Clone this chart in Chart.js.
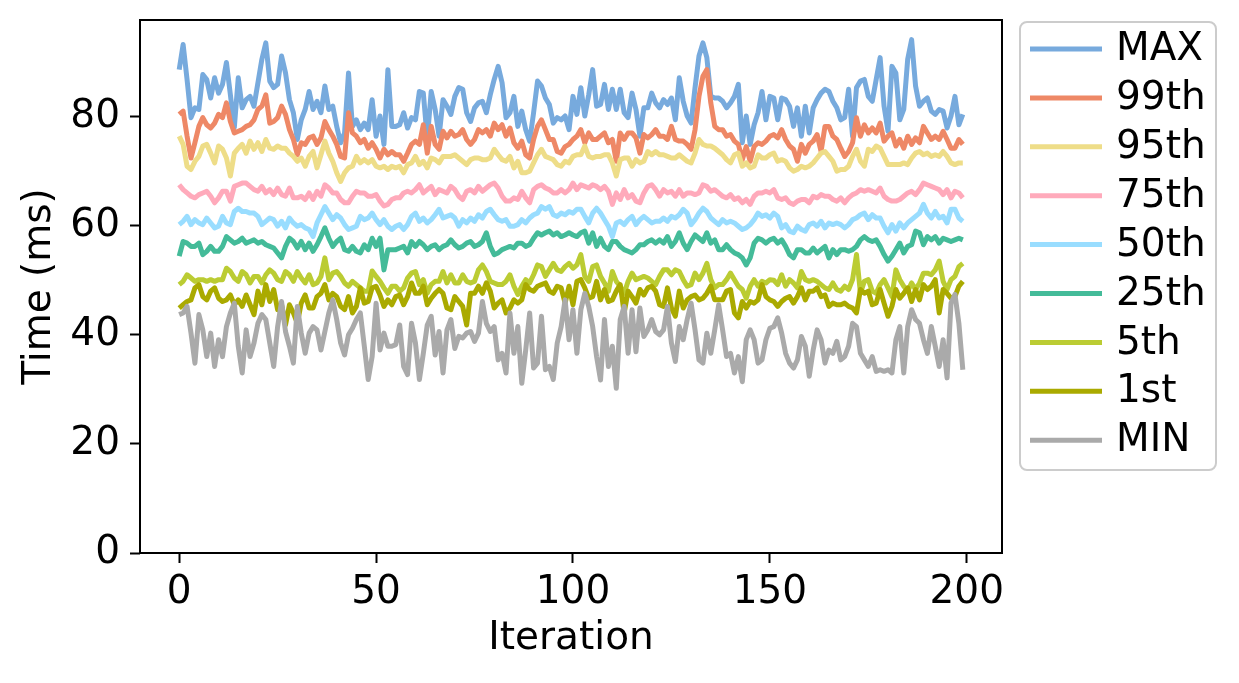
<!DOCTYPE html>
<html>
<head>
<meta charset="utf-8">
<script src="https://cdn.jsdelivr.net/npm/chart.js@4.4.1/dist/chart.umd.min.js"></script>
<style>
  html, body { margin: 0; padding: 0; background: #fff; }
  #wrap { width: 1239px; height: 683px; }
</style>
</head>
<body>
<div id="wrap"><canvas id="canvas" width="1239" height="683"></canvas></div>
<script>
// valores (ms por iteracao)
var seriesNames = ['MAX', '99th', '95th', '75th', '50th', '25th', '5th', '1st', 'MIN'];
var seriesColors = ['#77AADD', '#EE8866', '#EEDD88', '#FFAABB', '#99DDFF', '#44BB99', '#BBCC33', '#AAAA00', '#AAAAAA'];
var xTicks = [0, 50, 100, 150, 200];
var yTicks = [0, 20, 40, 60, 80];

var maxV = [88.6,93.2,86.8,79.8,81.6,81.3,87.7,86.8,83.4,87.1, 84.3,85.9,89.9,84.0,78.0,87.1,81.6,83.1,83.7,81.9,
  86.2,90.5,93.5,86.5,85.3,85.9,91.1,88.0,83.1,80.7, 75.8,79.4,81.3,84.6,81.3,82.8,80.7,85.6,81.3,81.9,
  78.2,75.2,77.0,88.0,78.2,79.4,77.6,78.8,77.6,83.1, 76.4,80.1,74.9,88.6,78.2,78.2,78.5,80.7,77.9,79.8,
  79.4,84.6,84.3,75.8,84.6,81.3,76.4,83.1,81.9,80.4, 83.7,85.3,85.0,80.7,79.1,81.6,82.5,82.8,80.7,84.0,
  86.8,89.2,86.2,79.8,80.7,83.7,78.2,81.0,77.6,75.5, 80.7,86.5,85.6,83.4,82.2,78.8,79.8,79.4,80.1,77.6,
  83.7,80.4,85.3,80.1,84.0,88.6,81.9,82.2,85.9,81.3, 85.0,81.3,85.0,80.7,79.8,84.3,81.3,76.4,81.6,81.6,
  84.3,82.5,81.6,83.1,82.2,83.4,79.4,87.1,82.8,80.1, 78.8,85.3,91.1,93.5,90.8,83.7,83.4,83.4,82.8,81.6,
  82.5,83.7,85.9,75.2,80.1,74.9,78.5,80.7,84.6,79.4, 83.7,83.4,79.4,83.4,83.1,81.9,78.2,81.6,76.4,81.9,
  77.0,81.6,83.1,84.3,85.0,84.6,82.8,81.6,79.4,79.8, 85.0,76.4,85.3,86.5,86.8,83.7,82.8,86.8,90.8,81.9,
  77.3,89.2,88.0,79.4,81.3,90.5,94.1,85.6,81.9,82.8, 83.4,81.0,80.4,81.3,81.0,77.9,80.1,83.7,78.5,80.4];

var p99 = [80.4,81.0,76.4,72.4,75.2,78.2,79.8,78.5,77.9,78.8, 80.4,79.8,82.5,79.1,77.0,77.3,77.6,78.2,78.5,79.4,
  81.3,81.9,84.0,78.8,79.1,79.8,81.9,80.4,77.6,75.8, 73.0,75.2,74.9,76.1,76.4,74.9,76.1,79.1,77.6,76.4,
  74.9,72.7,72.4,80.7,77.0,76.4,75.2,75.8,74.2,75.2, 74.0,72.4,74.0,73.0,73.6,73.0,73.0,71.8,73.3,74.9,
  75.5,74.9,78.5,73.3,78.2,74.9,74.0,77.3,76.1,77.3, 76.4,76.7,77.6,75.8,74.9,75.8,77.6,77.0,77.6,76.4,
  78.8,77.6,78.5,76.4,77.9,75.2,74.2,75.5,73.0,72.4, 75.8,78.2,79.4,77.6,75.8,75.8,73.6,73.3,74.5,74.9,
  75.8,76.4,77.6,75.2,77.0,75.8,75.8,76.4,77.0,75.2, 75.8,71.8,77.0,75.8,77.0,77.0,76.1,73.3,76.7,76.1,
  76.7,77.6,76.4,76.4,75.8,78.2,75.8,75.5,75.5,74.9, 74.0,77.6,83.7,87.4,88.6,82.5,78.2,77.6,77.6,76.4,
  76.7,75.5,74.9,72.1,74.5,71.8,74.5,75.2,74.9,75.5, 76.4,76.7,76.1,77.6,75.8,74.6,74.0,71.8,74.9,73.3,
  74.9,75.5,76.7,73.6,78.2,78.2,76.4,75.8,74.2,72.7, 73.6,75.2,79.8,76.4,78.5,77.0,77.9,77.0,78.8,75.5,
  76.4,77.0,74.6,75.8,74.2,76.4,74.9,76.1,75.2,78.2, 77.0,75.8,76.4,75.8,77.3,75.8,74.2,74.2,75.8,74.9];

var p95 = [76.4,74.9,70.9,70.3,71.8,72.7,74.6,74.9,73.3,71.5, 74.6,74.0,72.4,69.1,73.3,74.2,74.9,73.3,75.5,74.0,
  75.2,73.6,75.8,74.2,74.0,74.6,74.2,74.2,73.3,72.7, 71.8,72.4,70.9,72.7,73.6,70.6,73.0,75.5,73.3,71.8,
  69.7,68.1,69.7,70.6,70.9,72.7,71.5,72.1,71.5,72.1, 70.9,70.6,70.9,70.3,70.9,70.6,70.9,69.7,71.2,71.5,
  72.7,71.2,71.8,70.6,72.4,72.1,71.5,72.7,72.7,72.7, 73.0,72.4,71.8,71.2,72.1,72.4,72.4,72.1,72.1,72.4,
  74.0,73.0,72.1,71.8,72.7,70.6,71.8,69.7,69.7,70.0, 71.5,73.0,74.0,72.7,72.4,72.1,71.2,70.9,71.8,71.5,
  72.7,73.0,73.0,74.6,72.7,72.4,72.7,72.7,73.0,73.0, 71.5,69.1,72.1,72.4,72.4,70.9,72.1,71.5,71.8,73.6,
  73.0,73.6,73.0,73.0,72.7,72.4,72.4,73.0,72.4,71.8, 71.5,73.3,75.8,74.9,74.6,74.6,74.2,73.6,73.0,72.1,
  71.5,73.0,73.3,70.9,71.5,70.6,70.9,73.0,72.4,72.4, 73.0,73.3,71.8,72.1,71.8,70.6,70.0,70.3,70.9,70.6,
  70.9,71.5,72.4,73.3,73.6,72.7,71.8,70.0,70.3,70.3, 70.9,72.7,74.0,71.8,70.9,74.0,73.6,74.6,74.2,72.7,
  71.2,71.2,71.2,71.2,71.5,71.2,72.4,73.3,73.6,73.0, 73.3,72.7,73.0,72.7,73.6,72.7,71.5,71.2,71.5,71.5];

var p75 = [67.5,66.6,66.0,65.4,65.1,65.7,66.0,66.3,65.4,64.2, 65.1,66.3,66.3,64.5,67.2,67.5,67.8,67.8,67.2,66.6,
  66.3,67.2,66.0,66.6,65.7,66.9,65.7,65.4,66.9,65.1, 65.1,65.4,64.8,66.0,64.8,66.3,65.4,67.5,66.9,66.0,
  66.0,64.8,64.2,64.2,65.4,66.3,66.0,66.0,65.4,65.4, 65.7,64.5,63.6,63.9,64.8,65.1,65.1,66.0,66.3,66.0,
  66.6,67.5,66.0,66.6,67.2,65.7,66.6,66.3,66.0,67.2, 66.6,65.4,64.8,66.3,66.6,66.0,67.2,66.3,66.9,67.5,
  67.8,66.9,65.4,64.5,64.5,65.1,64.8,66.3,65.1,64.2, 66.6,67.2,67.5,66.9,66.6,66.0,66.0,66.6,66.0,66.6,
  67.8,66.6,67.5,67.2,66.9,67.5,67.2,66.6,67.2,66.3, 63.9,66.0,64.8,66.6,65.1,65.7,64.5,64.2,66.0,67.2,
  67.5,66.6,65.4,66.6,66.0,66.3,65.4,66.6,65.4,66.0, 66.0,65.7,66.0,67.5,67.2,66.3,66.6,66.0,65.4,65.1,
  65.7,64.8,65.1,64.2,64.8,63.9,65.4,66.0,66.0,66.3, 66.0,66.6,65.1,64.8,65.1,64.2,63.9,64.5,64.8,64.8,
  64.2,65.4,65.1,65.7,65.4,65.4,64.8,64.5,65.1,64.2, 65.1,65.7,66.0,66.6,66.3,66.6,66.3,66.0,66.9,65.4,
  64.8,64.5,64.5,64.8,65.4,66.0,66.3,65.7,66.6,67.8, 67.5,67.2,66.9,66.6,65.7,66.6,65.1,66.3,66.0,65.1];

var p50 = [60.2,60.8,61.7,60.2,61.1,60.5,60.2,61.4,60.5,59.6, 59.9,61.7,60.5,60.2,62.6,63.2,62.6,62.6,62.3,62.3,
  61.7,60.2,60.8,61.4,61.1,59.9,60.8,59.6,61.4,60.5, 59.9,60.2,59.6,59.3,58.0,60.5,62.0,63.5,62.3,61.1,
  62.0,61.4,60.2,59.3,59.6,59.9,61.7,61.1,61.4,62.3, 61.1,60.2,61.1,59.9,59.3,59.9,60.2,59.3,60.2,61.7,
  62.3,60.8,61.4,60.5,61.1,62.0,63.0,61.4,61.7,62.0, 61.4,59.9,61.1,60.5,61.4,60.8,62.0,61.4,62.6,63.0,
  62.0,61.1,60.8,61.1,59.9,59.9,60.2,61.1,60.5,61.4, 62.0,62.3,63.5,63.0,63.5,62.0,61.7,62.3,62.0,62.6,
  62.3,63.0,63.0,61.7,60.5,62.3,63.2,62.3,61.1,59.9, 58.0,60.5,60.8,60.2,61.1,61.7,60.2,61.1,61.7,61.1,
  60.5,60.8,60.8,61.4,60.8,61.7,61.4,62.0,63.0,62.3, 60.2,61.1,62.3,63.2,62.6,61.4,60.8,60.2,61.1,60.5,
  60.8,60.5,59.9,59.3,59.6,60.2,61.1,62.3,61.7,62.0, 61.4,62.3,61.7,59.6,60.2,59.0,58.7,59.9,59.3,59.0,
  60.2,60.5,59.9,60.8,59.6,60.5,60.2,60.5,60.2,59.6, 60.2,61.1,61.4,62.0,62.3,61.1,62.0,61.4,61.4,59.9,
  58.7,60.2,59.0,60.5,59.6,60.5,61.1,61.7,62.3,63.9, 62.3,61.4,62.6,61.4,61.7,60.5,63.0,63.0,61.4,60.8];

var p25 = [54.4,57.1,56.8,56.2,56.2,56.8,54.7,55.3,56.2,55.3, 55.3,56.2,58.0,57.4,56.8,57.1,57.7,56.8,57.1,57.4,
  56.8,57.1,56.5,56.2,55.9,55.0,54.1,56.2,57.7,57.1, 55.9,57.1,55.6,56.8,55.3,56.5,58.0,59.6,57.7,56.2,
  57.1,57.7,55.6,55.3,56.2,55.3,55.0,56.5,55.6,57.7, 56.2,57.7,51.9,55.6,55.6,55.6,55.9,56.2,55.0,57.1,
  56.2,57.1,56.5,55.6,56.2,56.5,55.6,56.2,56.5,57.4, 56.5,55.9,56.2,56.8,57.1,56.2,56.5,57.1,58.7,56.2,
  54.7,55.0,55.6,55.9,56.2,55.9,56.8,56.8,56.2,56.5, 57.7,58.7,58.3,58.7,59.0,58.3,58.7,58.0,58.3,58.7,
  58.3,58.0,58.7,59.0,56.8,58.7,56.2,57.7,56.2,55.6, 57.1,57.1,56.2,55.6,55.3,55.0,55.6,56.5,56.5,57.1,
  57.4,56.8,57.4,56.8,58.0,56.2,57.1,58.7,56.8,55.6, 57.1,58.3,57.7,57.1,58.7,56.8,57.4,55.6,55.6,56.5,
  55.6,55.0,54.7,54.1,52.8,54.1,56.8,57.7,57.4,56.8, 57.4,57.7,56.8,57.4,56.2,54.7,54.1,55.6,55.6,55.0,
  55.0,55.9,55.0,55.6,56.2,54.1,55.6,54.7,55.6,55.6, 55.3,55.6,56.2,57.4,58.0,57.4,57.1,57.4,56.2,54.7,
  53.5,54.4,55.6,56.8,55.0,56.2,56.5,59.0,58.7,56.5, 58.0,57.4,58.0,56.8,57.7,57.4,57.1,57.4,57.7,57.4];

var p5 = [49.2,49.8,51.0,50.4,49.8,50.1,50.1,49.8,50.1,49.8, 50.1,50.1,52.2,51.6,50.4,49.8,51.6,51.0,49.5,50.7,
  50.7,49.5,51.0,51.9,51.3,50.1,49.8,51.6,51.0,49.8, 51.6,50.4,49.5,51.0,49.2,49.5,50.7,54.1,50.1,51.3,
  51.6,50.7,49.5,48.9,49.8,49.2,48.6,48.0,48.0,51.7, 50.7,49.8,48.6,47.6,48.9,48.9,48.0,48.6,50.4,51.3,
  51.6,49.2,50.1,47.6,49.2,49.8,49.8,51.6,49.5,51.0, 49.5,49.5,51.0,49.8,49.5,49.8,51.9,52.8,51.6,49.8,
  49.5,49.2,49.2,49.8,51.0,48.9,47.4,48.9,50.1,49.5, 51.0,52.8,52.5,50.7,51.9,53.1,51.9,51.6,52.5,53.1,
  52.2,52.8,54.7,50.7,49.8,52.5,52.8,50.7,49.5,48.0, 51.6,49.8,48.9,47.6,49.8,51.3,50.1,50.4,50.7,50.4,
  49.8,49.2,50.7,51.9,51.9,51.0,51.9,51.6,50.1,48.9, 49.2,51.3,50.1,51.3,53.1,50.1,48.6,49.2,49.2,50.1,
  51.3,50.1,48.9,48.3,46.7,48.9,50.1,48.9,49.8,49.5, 50.1,50.0,49.2,51.0,48.9,50.1,49.5,48.6,51.6,50.1,
  49.8,50.1,49.8,49.2,48.6,48.3,49.5,48.3,48.0,48.9, 48.3,50.1,54.7,47.6,49.8,50.1,48.0,47.6,49.2,50.1,
  48.6,47.0,51.9,50.1,48.9,48.0,49.5,48.3,49.5,51.3, 51.3,51.0,51.9,53.5,49.8,48.3,50.1,50.7,52.5,53.1];

var p1 = [44.9,45.5,46.1,46.4,48.6,49.2,47.0,46.4,48.0,48.6, 46.7,46.1,46.4,47.3,45.5,46.4,45.2,47.3,45.5,43.7,
  48.0,45.5,49.2,46.1,48.3,44.6,45.5,41.8,45.5,44.0, 42.1,45.8,47.3,44.9,44.9,47.0,47.6,49.2,46.4,47.6,
  47.0,45.2,44.6,47.0,44.0,45.2,48.6,45.8,46.1,48.6, 48.9,47.3,45.2,46.4,45.5,47.0,47.3,45.5,47.0,49.5,
  47.6,47.6,48.9,45.5,46.7,47.6,48.3,47.6,44.9,44.6, 47.0,46.1,45.2,41.8,47.6,47.6,48.9,47.6,49.5,48.0,
  44.9,45.8,46.4,44.0,44.9,46.4,45.8,46.4,49.2,48.3, 48.0,48.9,49.2,49.5,48.0,47.6,48.9,48.6,45.8,48.9,
  45.5,49.8,50.1,48.6,46.7,47.0,49.8,46.4,48.3,46.1, 46.4,48.0,49.2,44.0,48.0,47.0,45.8,48.3,47.3,48.6,
  48.9,48.0,45.5,45.2,48.6,44.9,43.4,48.0,44.9,46.4, 47.0,47.3,46.4,46.7,47.6,48.9,46.4,46.4,46.4,48.0,
  48.3,44.0,43.1,46.1,44.9,46.1,45.8,46.4,49.2,47.0, 46.4,46.1,45.2,46.1,46.7,47.0,45.8,47.0,48.6,46.4,
  48.0,48.0,48.6,47.0,47.3,45.2,45.8,45.5,45.5,45.8, 45.2,44.9,44.0,48.3,47.6,48.0,45.5,45.8,48.3,45.8,
  43.4,45.2,48.3,46.7,47.6,48.6,46.1,48.3,46.4,49.2, 48.3,48.9,50.1,44.0,48.3,47.6,46.7,47.0,48.9,49.8];

var minV = [43.7,44.0,45.2,40.3,34.8,43.7,40.9,36.0,40.3,34.2, 39.1,36.0,41.5,44.0,45.8,37.9,33.0,40.9,36.0,38.5,
  42.1,43.7,42.8,38.5,34.2,41.5,46.1,40.6,37.9,34.8, 45.2,40.3,36.6,40.3,41.5,40.9,37.2,40.6,44.0,46.4,
  42.8,38.5,36.3,40.0,41.2,42.8,44.0,38.0,31.8,36.0, 45.8,37.2,40.3,37.9,37.9,38.2,41.8,34.2,32.7,42.1,
  38.5,31.8,36.6,41.8,43.4,36.3,40.6,33.0,40.9,42.8, 37.5,39.7,39.4,40.3,40.6,38.8,40.3,46.1,42.1,40.6,
  41.5,35.4,36.6,33.0,44.0,36.6,41.5,31.1,37.2,44.0, 33.9,34.8,43.4,33.6,34.2,31.8,38.5,41.5,46.4,39.1,
  44.6,36.6,44.6,47.6,45.2,41.5,36.0,31.7,42.8,34.2, 37.9,30.2,42.8,45.2,36.6,44.6,36.9,44.9,39.7,40.9,
  42.8,40.6,40.0,40.9,45.2,38.5,35.1,41.5,39.1,42.8, 45.8,40.9,35.4,34.8,40.3,36.6,40.9,45.5,40.9,36.0,
  36.6,33.0,36.0,31.4,39.1,40.9,39.1,34.8,35.4,39.1, 41.2,41.5,43.1,40.3,36.6,34.8,33.9,35.4,39.7,37.9,
  32.4,37.2,40.9,39.1,34.8,37.2,36.6,38.8,35.4,36.0, 37.9,42.1,41.5,36.6,35.4,34.2,36.0,33.3,33.6,33.3,
  33.6,33.0,39.1,41.5,33.0,41.5,44.6,42.8,42.1,39.1, 36.6,41.5,37.9,34.2,39.1,32.1,45.8,47.4,42.1,33.6];

var allSeries = [maxV, p99, p95, p75, p50, p25, p5, p1, minV];

var FONT = 'DejaVu Sans';
var FS = 39;
var LW = 5;

var datasets = [];
for (var k = 0; k < allSeries.length; k++) {
  datasets.push({
    label: seriesNames[k],
    data: allSeries[k].map(function (v, i) { return { x: i, y: v }; }),
    borderColor: seriesColors[k],
    backgroundColor: seriesColors[k],
    borderWidth: LW,
    borderJoinStyle: 'round',
    pointRadius: 0,
    tension: 0,
    fill: false,
    order: allSeries.length - k   // MIN fica por cima, como no original
  });
}

// moldura do eixo + legenda com caixa
var framePlugin = {
  id: 'frameLegend',
  afterDraw: function (chart) {
    var ctx = chart.ctx;
    var a = chart.chartArea;
    ctx.save();
    ctx.strokeStyle = '#000';
    ctx.lineWidth = 2;
    ctx.strokeRect(a.left, a.top, a.right - a.left, a.bottom - a.top);

    var bx = 1020, by = 22, bw = 196, bh = 448, r = 7;
    ctx.beginPath();
    ctx.moveTo(bx + r, by);
    ctx.arcTo(bx + bw, by, bx + bw, by + bh, r);
    ctx.arcTo(bx + bw, by + bh, bx, by + bh, r);
    ctx.arcTo(bx, by + bh, bx, by, r);
    ctx.arcTo(bx, by, bx + bw, by, r);
    ctx.closePath();
    ctx.fillStyle = 'rgba(255,255,255,0.8)';
    ctx.fill();
    ctx.strokeStyle = '#cccccc';
    ctx.lineWidth = 2;
    ctx.stroke();

    ctx.font = FS + 'px "' + FONT + '"';
    ctx.textBaseline = 'middle';
    ctx.textAlign = 'left';
    chart.data.datasets.forEach(function (ds, i) {
      var y = 49 + i * 48.9;
      ctx.strokeStyle = ds.borderColor;
      ctx.lineWidth = LW;
      ctx.lineCap = 'butt';
      ctx.beginPath();
      ctx.moveTo(1030, y);
      ctx.lineTo(1102, y);
      ctx.stroke();
      ctx.fillStyle = '#000';
      ctx.fillText(ds.label, 1116, y + 1);
    });
    ctx.restore();
  }
};

var ctx = document.getElementById('canvas').getContext('2d');
window.myLine = new Chart(ctx, {
  type: 'line',
  data: { datasets: datasets },
  plugins: [framePlugin],
  options: {
    responsive: false,
    animation: false,
    devicePixelRatio: 1,
    layout: { padding: { left: 0, top: 20, right: 237, bottom: 0 } },
    plugins: { legend: { display: false }, tooltip: { enabled: false } },
    scales: {
      x: {
        type: 'linear',
        min: -9.95,
        max: 208.95,
        afterBuildTicks: function (s) { s.ticks = xTicks.map(function (v) { return { value: v }; }); },
        afterFit: function (s) { s.height = 130; s.paddingLeft = 0; s.paddingRight = 0; },
        grid: { drawOnChartArea: false, drawTicks: true, tickLength: 10, tickWidth: 2, tickColor: '#000', color: '#000' },
        border: { display: false },
        ticks: { color: '#000', font: { family: FONT, size: FS }, padding: 6, maxRotation: 0 },
        title: { display: true, text: 'Iteration', color: '#000', font: { family: FONT, size: FS }, padding: { bottom: 21 } }
      },
      y: {
        min: 0,
        max: 97.7,
        afterBuildTicks: function (s) { s.ticks = yTicks.map(function (v) { return { value: v }; }); },
        afterFit: function (s) { s.width = 140; s.paddingTop = 0; s.paddingBottom = 0; },
        grid: { drawOnChartArea: false, drawTicks: true, tickLength: 10, tickWidth: 2, tickColor: '#000', color: '#000' },
        border: { display: false },
        ticks: { color: '#000', font: { family: FONT, size: FS }, padding: 10 },
        title: { display: true, text: 'Time (ms)', color: '#000', font: { family: FONT, size: FS }, padding: { top: 16 } }
      }
    }
  }
});
</script>
</body>
</html>
